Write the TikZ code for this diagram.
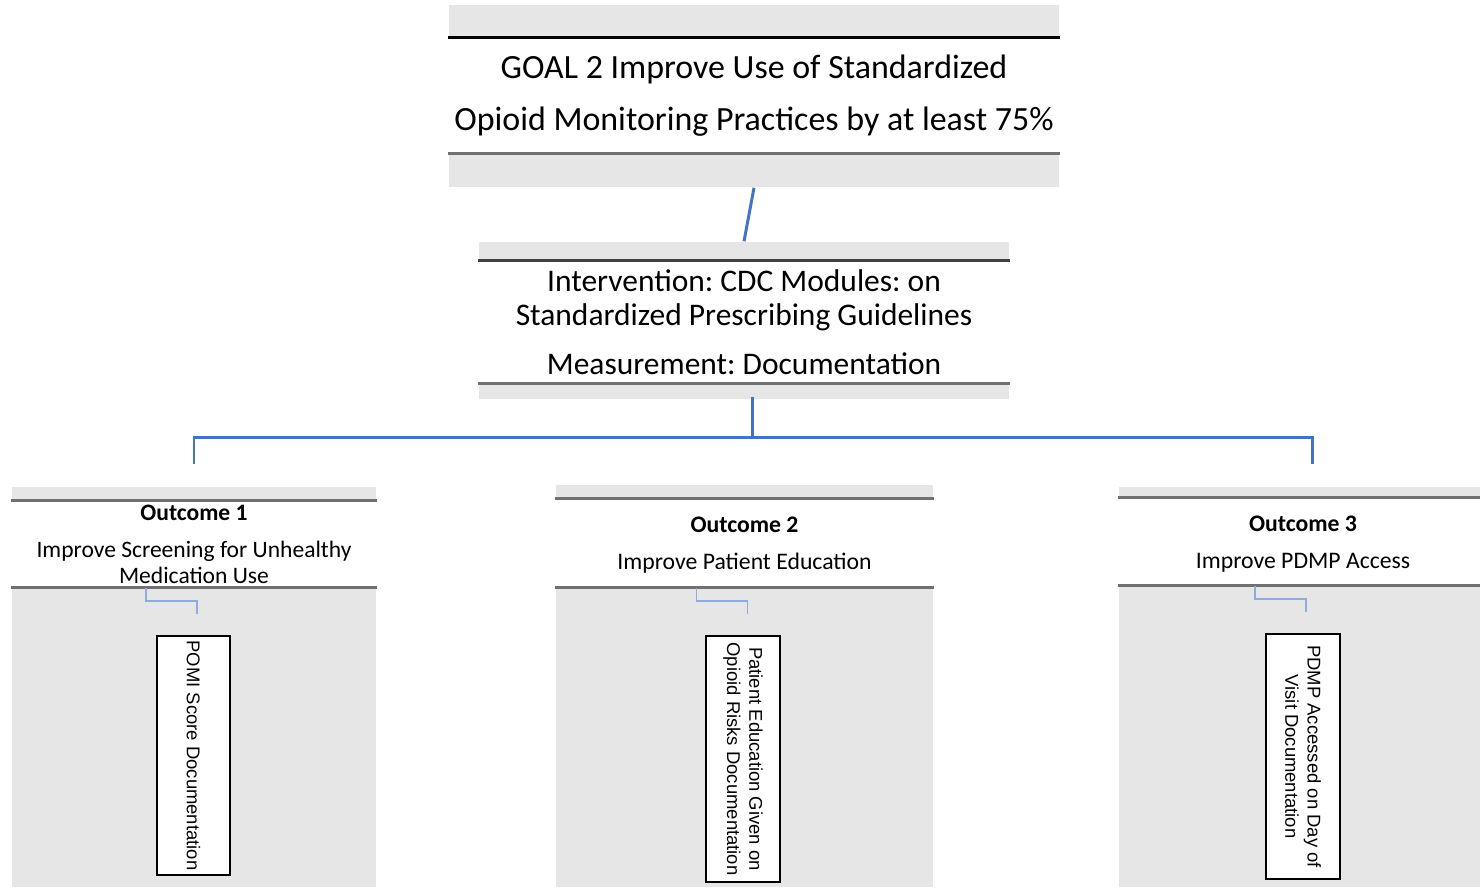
\documentclass[tikz,border=0pt]{standalone}
\usepackage{fontspec}
\setmainfont{Carlito}
\newfontfamily\boxfont{Liberation Sans}
\usepackage{xcolor}
\usetikzlibrary{positioning,fit}
\definecolor{bandgray}{HTML}{E6E6E6}
\definecolor{rulegray}{HTML}{707070}
\definecolor{linkblue}{HTML}{4472C4}
\definecolor{paleblue}{HTML}{8FAADC}
\frenchspacing

\begin{document}
\begin{tikzpicture}[x=0.01cm, y=-0.01cm,
  band/.style={fill=bandgray, draw=none, inner sep=0pt},
  panel/.style={fill=white, draw=none, inner sep=0pt},
  heading/.style={align=center, inner sep=0pt},
  mbox/.style={draw=black, fill=white, line width=0.4pt, inner sep=0pt},
  vlabel/.style={rotate=-90, align=center, inner sep=0pt,
                 font=\boxfont\fontsize{5.25}{6.3}\selectfont},
  link/.style={draw=linkblue, line width=0.85pt},
  sublink/.style={draw=paleblue, line width=0.5pt},
  rule/.style={draw=rulegray, line width=0.7pt}]
\useasboundingbox (0,0) rectangle (1480,887);
\clip (0,0) rectangle (1480,887);
% goal
\node[band, fit={(449,5) (1059,187)}] (goalbg) {};
\node[panel, fit={(449,38) (1059,153)}] (goalpanel) {};
\draw[draw=black, line width=0.8pt] (goalpanel.north west) -- (goalpanel.north east);
\draw[rule, line width=0.8pt] (goalpanel.south west) -- (goalpanel.south east);
\node[heading, font=\fontsize{9.65}{14.8}\selectfont] (goal) at (goalpanel.center)
  {GOAL 2 Improve Use of Standardized\\Opioid Monitoring Practices by at least 75\%};
% intervention
\node[band, fit={(479,242) (1009,399)}] (intbg) {};
\node[panel, fit={(479,261) (1009,383)}] (intpanel) {};
\draw[rule, draw=black!75] (intpanel.north west) -- (intpanel.north east);
\draw[rule] (intpanel.south west) -- (intpanel.south east);
\node[heading, font=\fontsize{8.95}{9.7}\selectfont] (interv) at (intpanel.center)
  {Intervention: CDC Modules: on\\Standardized Prescribing Guidelines\\[4.2pt]Measurement: Documentation};
% outcomes
\node[band, fit={(12,487) (376,887)}] (outbg1) {};
\node[panel, fit={(12,501) (376,587)}] (panel1) {};
\node[band, fit={(556,485) (933,887)}] (outbg2) {};
\node[panel, fit={(556,499) (933,587)}] (panel2) {};
\node[band, fit={(1119,487) (1487,887)}] (outbg3) {};
\node[panel, fit={(1119,498) (1487,585)}] (panel3) {};
\foreach \i in {1,2,3} {
  \draw[rule] (panel\i.north west) -- (panel\i.north east);
  \draw[rule] (panel\i.south west) -- (panel\i.south east);
}
\node[heading, font=\fontsize{6.7}{7.4}\selectfont] (out1) at (panel1.center)
  {\textbf{Outcome 1}\\[3.1pt]Improve Screening for Unhealthy\\Medication Use};
\node[heading, font=\fontsize{6.75}{7.4}\selectfont, yshift=-0.025cm] (out2) at (panel2.center)
  {\textbf{Outcome 2}\\[3.1pt]Improve Patient Education};
\node[heading, font=\fontsize{6.75}{7.4}\selectfont, yshift=-0.025cm] (out3) at (panel3.center)
  {\textbf{Outcome 3}\\[3.1pt]Improve PDMP Access};
% measures
\node[mbox, fit={(157,636) (230,875)}] (meas1) {};
\node[vlabel] (mlabel1) at (meas1.center) {POMI Score Documentation};
\node[mbox, fit={(706,636) (780,882)}] (meas2) {};
\node[vlabel] (mlabel2) at (meas2.center) {Patient Education Given on\\Opioid Risks Documentation};
\node[mbox, fit={(1266,634) (1340,879)}] (meas3) {};
\node[vlabel] (mlabel3) at (meas3.center) {PDMP Accessed on Day of\\Visit Documentation};
% connectors
\draw[link] (goalbg.south) -- (intbg.north);
\draw[link] ([xshift=0.08cm, yshift=0.03cm]intbg.south) -- ++(0,41) coordinate (split);
\draw[link] ([yshift=0.22cm]outbg1.north) |- (split) -| ([xshift=0.09cm, yshift=0.22cm]outbg3.north);
\foreach \i in {1,2,3}
  \draw[sublink] ([xshift=-0.48cm]panel\i.south) -- ++(0,13) -| ([xshift=0.03cm, yshift=-0.26cm]panel\i.south);
\end{tikzpicture}
\end{document}
